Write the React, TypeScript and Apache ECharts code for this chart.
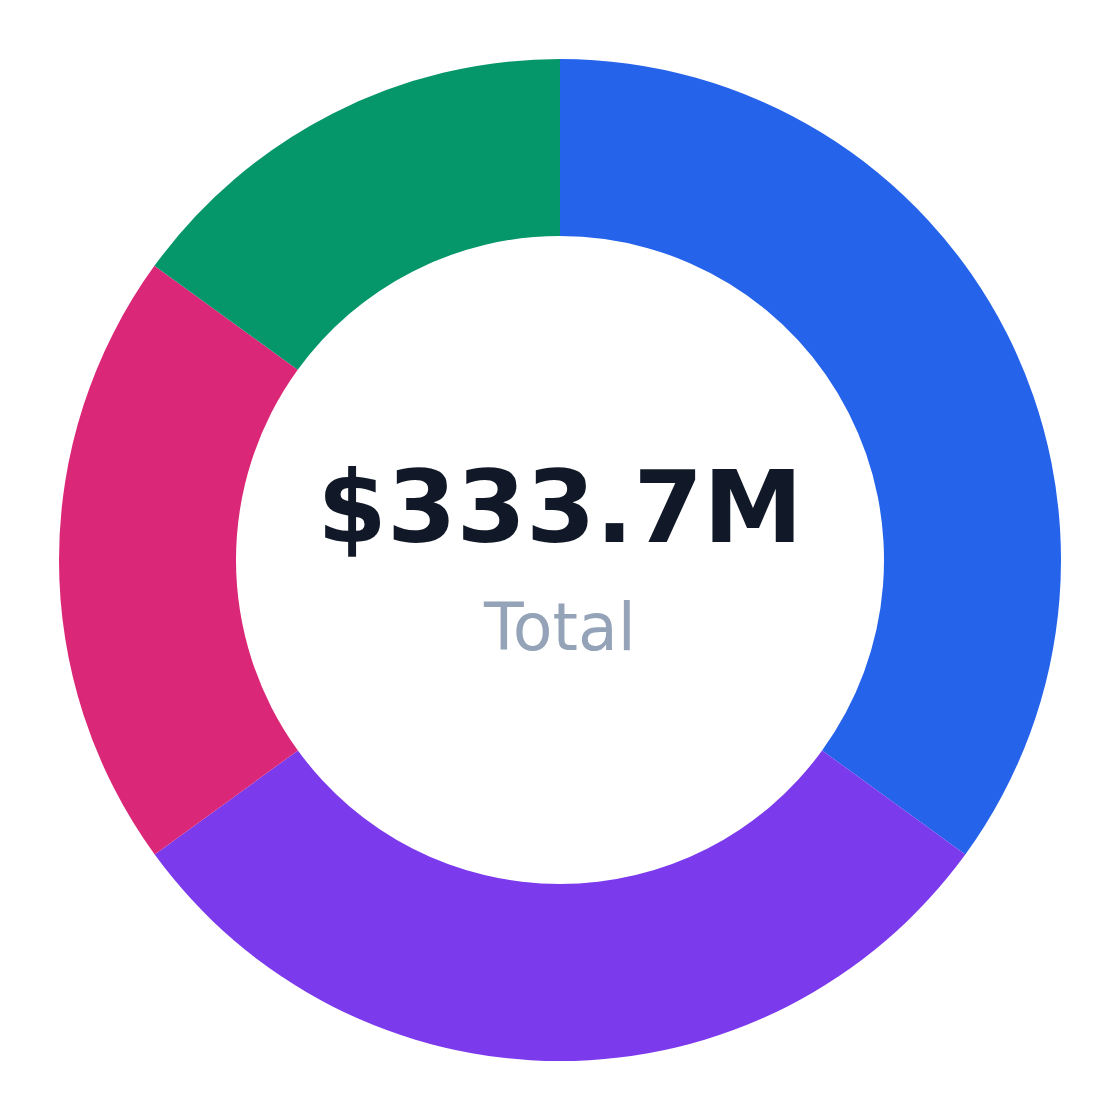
import * as echarts from 'echarts';
import { useEffect, useRef } from 'react';

const categories = ['Segment A', 'Segment B', 'Segment C', 'Segment D'];
const values = [116.8, 100.1, 66.7, 50.1];
const colors = ['#2563eb', '#7c3aed', '#db2777', '#059669'];
const totalLabel = '$333.7M';
const subLabel = 'Total';

function buildOption() {
  return {
    animation: false,
    color: colors,
    title: {
      text: totalLabel,
      subtext: subLabel,
      left: 'center',
      top: 452,
      itemGap: 38,
      textStyle: {
        fontFamily: 'DejaVu Sans',
        fontWeight: 'bold',
        fontSize: 100,
        color: '#111827',
      },
      subtextStyle: {
        fontFamily: 'DejaVu Sans',
        fontSize: 65,
        color: '#94a3b8',
      },
    },
    series: [
      {
        type: 'pie',
        center: [560, 560],
        radius: [324, 501],
        startAngle: 90,
        clockwise: true,
        label: { show: false },
        labelLine: { show: false },
        emphasis: { disabled: true },
        data: categories.map((name, i) => ({ name, value: values[i] })),
      },
    ],
  };
}

export default function App() {
  const ref = useRef<HTMLDivElement | null>(null);

  useEffect(() => {
    document.body.style.margin = '0';
    if (!ref.current) return;
    const chart = echarts.init(ref.current, undefined, { renderer: 'svg' });
    chart.setOption(buildOption());
    return () => chart.dispose();
  }, []);

  return <div ref={ref} style={{ width: 1120, height: 1120, background: '#ffffff' }} />;
}
